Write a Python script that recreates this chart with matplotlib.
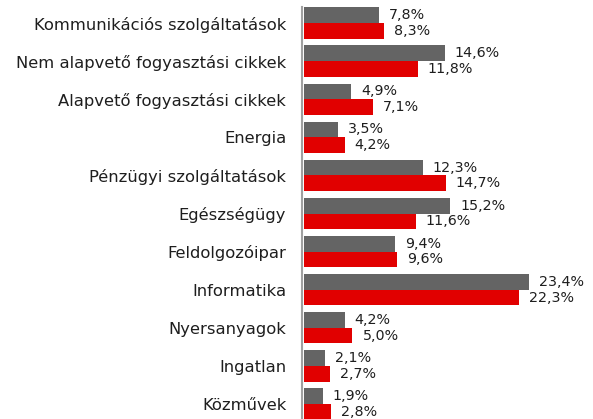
import matplotlib
matplotlib.use("Agg")
import matplotlib.pyplot as plt
import numpy as np

categories = [
    "Kommunikációs szolgáltatások",
    "Nem alapvető fogyasztási cikkek",
    "Alapvető fogyasztási cikkek",
    "Energia",
    "Pénzügyi szolgáltatások",
    "Egészségügy",
    "Feldolgozóipar",
    "Informatika",
    "Nyersanyagok",
    "Ingatlan",
    "Közművek",
]
series_grey = [7.8, 14.6, 4.9, 3.5, 12.3, 15.2, 9.4, 23.4, 4.2, 2.1, 1.9]
series_red = [8.3, 11.8, 7.1, 4.2, 14.7, 11.6, 9.6, 22.3, 5.0, 2.7, 2.8]

GREY = "#646464"
RED = "#E10000"
TXT = "#1e1e1e"
plt.rcParams["font.family"] = ["DejaVu Sans"]

W, H = 593, 419
fig = plt.figure(figsize=(W / 100, H / 100), dpi=100)
x0 = 304.4 / W
pxu = 9.61
xr = (W - 304.4) / pxu
top_px = 7
ax = fig.add_axes([x0, 0, 1 - x0, 1 - top_px / H])
pitch = 38.1
ax.set_xlim(0, xr)
ax.set_ylim((H - 23) / pitch, -(23 - top_px) / pitch)

y = np.arange(len(categories))
bh = 0.41
ax.barh(y - bh / 2, series_grey, height=bh, color=GREY)
ax.barh(y + bh / 2, series_red, height=bh, color=RED)

for yi, g, r in zip(y, series_grey, series_red):
    ax.annotate(f"{g:.1f}%".replace(".", ","), (g, yi - bh / 2), xytext=(10, 0),
                textcoords="offset pixels", va="center", ha="left", fontsize=10.3, color=TXT)
    ax.annotate(f"{r:.1f}%".replace(".", ","), (r, yi + bh / 2), xytext=(10, 0),
                textcoords="offset pixels", va="center", ha="left", fontsize=10.3, color=TXT)

ax.tick_params(axis="y", length=0, pad=11, labelsize=11.8, labelcolor=TXT)
ax.set_yticks(y)
ax.set_yticklabels(categories)
ax.set_xticks([])
for s in ["top", "right", "bottom"]:
    ax.spines[s].set_visible(False)
ax.spines["left"].set_position(("outward", 2))
ax.spines["left"].set_color("#a0a0a0")
ax.spines["left"].set_linewidth(1.5)
ax.patch.set_alpha(0)

fig.savefig("out.png", dpi=100)
